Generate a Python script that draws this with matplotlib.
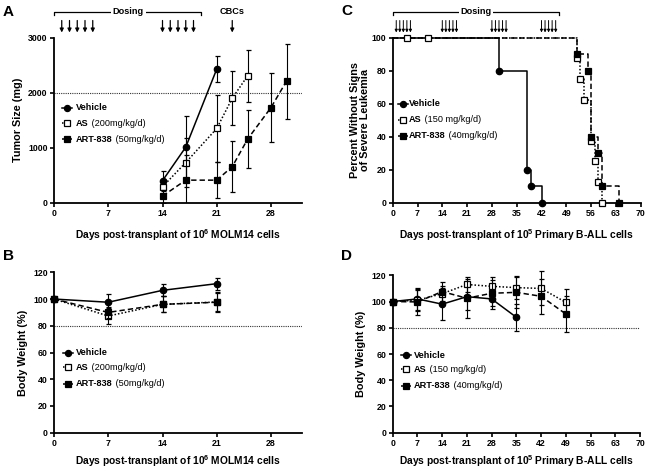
import matplotlib
matplotlib.use('Agg')
import matplotlib.pyplot as plt
import matplotlib.transforms as mtrans
from matplotlib.lines import Line2D

plt.rcParams['font.family'] = ['Liberation Sans', 'DejaVu Sans']
plt.rcParams['font.weight'] = 'bold'
plt.rcParams['mathtext.fontset'] = 'custom'
plt.rcParams['mathtext.rm'] = 'Liberation Sans:bold'
plt.rcParams['mathtext.bf'] = 'Liberation Sans:bold'

# ---------------- data ----------------
# Panel A: tumor size (mg)
veh_A_days = [14, 17, 21]
veh_A = [400, 1010, 2430]
veh_A_err = [180, 560, 240]
as_A_days = [14, 17, 21, 23, 25]
as_A = [290, 730, 1350, 1900, 2310]
as_A_err = [150, 440, 610, 490, 470]
art_A_days = [14, 17, 21, 23, 25, 28, 30]
art_A = [120, 410, 410, 655, 1160, 1730, 2210]
art_A_err = [120, 450, 330, 460, 520, 630, 680]
dose_A = [1, 2, 3, 4, 5, 14, 15, 16, 17, 18]
cbc_A = 23

# Panel B: body weight (%)
B_days = [0, 7, 14, 21]
veh_B = [100, 97.6, 106.5, 111.5]
veh_B_err = [0, 6, 4.5, 4.5]
as_B = [100, 87.3, 96, 97.8]
as_B_err = [0, 6, 6, 7]
art_B = [100, 90, 96, 97.6]
art_B_err = [0, 4, 6, 7.5]

# Panel C: survival (%)
veh_C_t = [0, 30, 38, 39, 42]
veh_C_s = [100, 80, 20, 10, 0]
as_C_t = [0, 52, 53, 54, 56, 57, 58, 59]
as_C_s = [100, 87.5, 75, 62.5, 37.5, 25, 12.5, 0]
as_C_cens = [4, 10]
art_C_t = [0, 52, 55, 56, 58, 59, 64]
art_C_s = [100, 90, 80, 40, 30, 10, 0]
dose_C = [1, 2, 3, 4, 5, 14, 15, 16, 17, 18, 28, 29, 30, 31, 32, 42, 43, 44, 45, 46]

# Panel D: body weight (%)
D_days = [0, 7, 14, 21, 28, 35, 42, 49]
veh_D = [100, 102, 98, 103.7, 102, 88]
veh_D_err = [0, 8.5, 12, 10, 8, 10.4]
as_D = [100, 101, 106, 113, 111.6, 110.6, 110, 99.4]
as_D_err = [0, 8, 6, 5.5, 7, 9, 13, 10]
art_D = [100, 99.7, 107.6, 102.5, 106.3, 107, 104, 90.5]
art_D_err = [0, 10, 7, 15, 10, 12, 13.5, 14]

lbl_A = [('Vehicle', ''), ('AS', ' (200mg/kg/d)'), ('ART-838', ' (50mg/kg/d)')]
lbl_C = [('Vehicle', ''), ('AS', ' (150 mg/kg/d)'), ('ART-838', ' (40mg/kg/d)')]

# ---------------- figure ----------------
W, H = 650, 471
fig = plt.figure(figsize=(6.5, 4.71), dpi=100)


def add_ax(l, t, r, b):
    return fig.add_axes([l / W, 1 - b / H, (r - l) / W, (b - t) / H])


def style(ax):
    for s in ['top', 'right']:
        ax.spines[s].set_visible(False)
    for s in ['left', 'bottom']:
        ax.spines[s].set_linewidth(1.3)
    ax.tick_params(direction='out', length=3, width=1.2, labelsize=6.3, pad=1.5)


SER = [
    dict(marker='o', mfc='black', ls='-'),
    dict(marker='s', mfc='white', ls=(0, (1, 1.3))),
    dict(marker='s', mfc='black', ls=(0, (3.5, 2))),
]


def series(ax, x, y, e, k, clip=True):
    st = SER[k]
    ms = 4.6 if st['marker'] == 'o' else 4.3
    c = ax.errorbar(x, y, yerr=e, color='black', marker=st['marker'], mfc=st['mfc'],
                    mec='black', ms=ms, mew=0.9, ls=st['ls'], lw=1.1, capsize=1.8,
                    elinewidth=0.8, capthick=0.8, zorder=3 + k)
    if not clip:
        c.lines[0].set_clip_on(False)
        for a in list(c.lines[1]) + list(c.lines[2]):
            a.set_clip_on(False)


def legend(xh, xt, ys, labels, fs=6.6):
    for k, (y, (b, r)) in enumerate(zip(ys, labels)):
        st = SER[k]
        yf = 1 - y / H
        fig.add_artist(Line2D([(xh - 5) / W, (xh + 5) / W], [yf, yf], color='black',
                              lw=1.1, ls=st['ls'], transform=fig.transFigure))
        fig.add_artist(Line2D([xh / W], [yf], color='black', marker=st['marker'],
                              mfc=st['mfc'], mec='black', ms=4.4, mew=0.9,
                              transform=fig.transFigure))
        t = fig.text(xt / W, yf, b, fontsize=fs, fontweight='bold', va='center', ha='left')
        if r:
            plt.annotate(r, xy=(1, 0.5), xycoords=t, va='center', ha='left',
                         fontsize=fs, fontweight='normal')


def dosing(ax, x0, x1, xtext, days, arrow_lw=0.9, ms=5.5, cbc=None):
    tr = mtrans.blended_transform_factory(ax.transData, fig.transFigure)
    yb = 1 - 11.7 / H
    ye = 1 - 14.5 / H
    ax.plot([x0, x0, x1, x1], [ye, yb, yb, ye], color='black', lw=0.9, transform=tr,
            clip_on=False)
    ax.text(xtext, yb, 'Dosing', transform=tr, ha='center', va='center', fontsize=6.6,
            fontweight='bold', bbox=dict(facecolor='white', edgecolor='none', pad=1.2))
    for d in days:
        ax.annotate('', xy=(d, 1 - 32.5 / H), xytext=(d, 1 - 20.5 / H), xycoords=tr,
                    textcoords=tr,
                    arrowprops=dict(arrowstyle='-|>', lw=arrow_lw, color='black',
                                    mutation_scale=ms, shrinkA=0, shrinkB=0))
    if cbc is not None:
        ax.text(cbc, yb, 'CBCs', transform=tr, ha='center', va='center', fontsize=6.6,
                fontweight='bold')
        ax.annotate('', xy=(cbc, 1 - 32.5 / H), xytext=(cbc, 1 - 20.5 / H), xycoords=tr,
                    textcoords=tr,
                    arrowprops=dict(arrowstyle='-|>', lw=0.9, color='black',
                                    mutation_scale=5.5, shrinkA=0, shrinkB=0))


xlab_A = r'Days post-transplant of 10$^{6}$ MOLM14 cells'
xlab_C = r'Days post-transplant of 10$^{5}$ Primary B-ALL cells'

# ---- Panel A ----
axA = add_ax(54, 37.7, 302, 202.7)
style(axA)
series(axA, veh_A_days, veh_A, veh_A_err, 0)
series(axA, as_A_days, as_A, as_A_err, 1)
series(axA, art_A_days, art_A, art_A_err, 2)
axA.axhline(2000, color='#333333', lw=0.8, ls=(0, (1, 1)), zorder=1)
axA.set_xlim(0, 32)
axA.set_ylim(0, 3000)
axA.set_xticks([0, 7, 14, 21, 28])
axA.set_yticks([0, 1000, 2000, 3000])
axA.set_ylabel('Tumor Size (mg)', fontsize=7.8, fontweight='bold', labelpad=4)
axA.set_xlabel(xlab_A, fontsize=7.4, fontweight='bold', labelpad=7)
dosing(axA, 0, 19, 9.6, dose_A, cbc=cbc_A)
legend(67, 76, [107.7, 123.3, 139.3], lbl_A)

# ---- Panel B ----
axB = add_ax(54, 272.3, 302, 432.7)
style(axB)
series(axB, B_days, veh_B, veh_B_err, 0, clip=False)
series(axB, B_days, as_B, as_B_err, 1, clip=False)
series(axB, B_days, art_B, art_B_err, 2, clip=False)
axB.axhline(80, color='#333333', lw=0.8, ls=(0, (1, 1)), zorder=1)
axB.set_xlim(0, 32)
axB.set_ylim(0, 120)
axB.set_xticks([0, 7, 14, 21, 28])
axB.set_yticks([0, 20, 40, 60, 80, 100, 120])
axB.set_ylabel('Body Weight (%)', fontsize=7.8, fontweight='bold', labelpad=4)
axB.set_xlabel(xlab_A, fontsize=7.4, fontweight='bold', labelpad=4)
legend(68, 76, [352.7, 367.3, 384], lbl_A)

# ---- Panel C ----
axC = add_ax(392.7, 37.7, 640.7, 202.7)
style(axC)
steps = [(veh_C_t, veh_C_s, 0), (as_C_t, as_C_s, 1), (art_C_t, art_C_s, 2)]
for t, s, k in steps:
    st = SER[k]
    axC.step(t, s, where='post', color='black', lw=1.1, ls=st['ls'], clip_on=False,
             zorder=3 + k)
    ms = 4.6 if st['marker'] == 'o' else 4.3
    axC.plot(t[1:], s[1:], ls='none', marker=st['marker'], mfc=st['mfc'], mec='black',
             ms=ms, mew=0.9, clip_on=False, zorder=6 + k)
axC.plot(as_C_cens, [100] * len(as_C_cens), ls='none', marker='s', mfc='white',
         mec='black', ms=4.3, mew=0.9, clip_on=False, zorder=7)
axC.set_xlim(0, 70)
axC.set_ylim(0, 100)
axC.set_xticks(range(0, 71, 7))
axC.set_yticks([0, 20, 40, 60, 80, 100])
axC.set_ylabel('Percent Without Signs\nof Severe Leukemia', fontsize=7.8,
               fontweight='bold', labelpad=1, linespacing=1.0)
axC.set_xlabel(xlab_C, fontsize=7.4, fontweight='bold', labelpad=7)
dosing(axC, 0, 47, 23.5, dose_C, arrow_lw=0.7, ms=4)
legend(403, 409, [104, 120, 136], lbl_C)

# ---- Panel D ----
axD = add_ax(392.7, 275.3, 640, 432.7)
style(axD)
series(axD, D_days[:len(veh_D)], veh_D, veh_D_err, 0, clip=False)
series(axD, D_days, as_D, as_D_err, 1, clip=False)
series(axD, D_days, art_D, art_D_err, 2, clip=False)
axD.axhline(80, color='#333333', lw=0.8, ls=(0, (1, 1)), zorder=1)
axD.set_xlim(0, 70)
axD.set_ylim(0, 120)
axD.set_xticks(range(0, 71, 7))
axD.set_yticks([0, 20, 40, 60, 80, 100, 120])
axD.set_ylabel('Body Weight (%)', fontsize=7.8, fontweight='bold', labelpad=4)
axD.set_xlabel(xlab_C, fontsize=7.4, fontweight='bold', labelpad=4)
legend(406, 414, [355, 369.3, 385.7], lbl_C)

# panel letters
for lt, x, y in [('A', 3, 12.5), ('C', 341, 11), ('B', 3, 256), ('D', 341, 256)]:
    fig.text(x / W, 1 - y / H, lt, fontsize=11, fontweight='bold', va='center', ha='left')

fig.savefig('out.png', dpi=100)
